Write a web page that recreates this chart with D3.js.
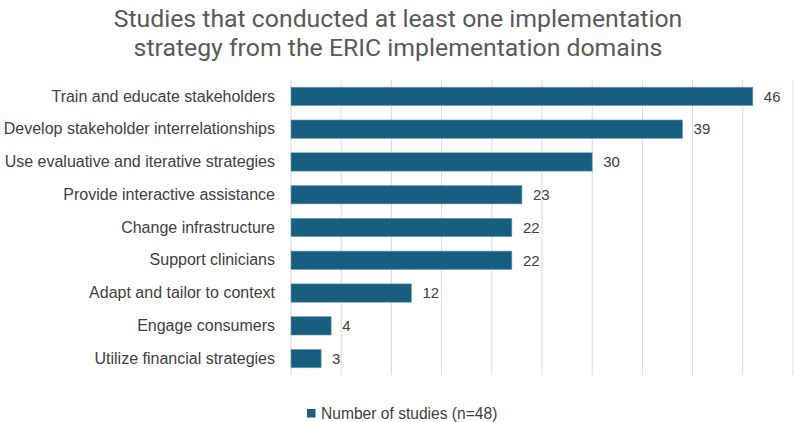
<!DOCTYPE html>
<html>
<head>
<meta charset="utf-8">
<script src="https://cdn.jsdelivr.net/npm/d3@7"></script>
<style>
  body { margin: 0; background: #fff; }
  svg { font-family: "Liberation Sans", Arial, sans-serif; }
</style>
</head>
<body>
<div id="chart"></div>
<script>
// data
const categories = [
  "Train and educate stakeholders",
  "Develop stakeholder interrelationships",
  "Use evaluative and iterative strategies",
  "Provide interactive assistance",
  "Change infrastructure",
  "Support clinicians",
  "Adapt and tailor to context",
  "Engage consumers",
  "Utilize financial strategies"
];
const studies = [46, 39, 30, 23, 22, 22, 12, 4, 3];
const seriesName = "Number of studies (n=48)";
const titleLines = [
  "Studies that conducted at least one implementation",
  "strategy from the ERIC implementation domains"
];

const width = 796, height = 422;
const margin = {top: 80, right: 3, bottom: 47, left: 291};
const barColor = "#175e80";

const svg = d3.select("#chart").append("svg")
  .attr("width", width)
  .attr("height", height);

const x = d3.scaleLinear([0, 50], [margin.left, width - margin.right]);
const y = d3.scaleBand(categories, [margin.top, height - margin.bottom])
  .paddingInner(0.44).paddingOuter(0.22);

// vertical gridlines
svg.append("g")
  .selectAll("line")
  .data(x.ticks(10))
  .join("line")
  .attr("x1", d => x(d)).attr("x2", d => x(d))
  .attr("y1", margin.top).attr("y2", height - margin.bottom)
  .attr("stroke", "#d9d9d9")
  .attr("stroke-width", 1);

// bars
svg.append("g")
  .selectAll("rect")
  .data(categories)
  .join("rect")
  .attr("x", x(0))
  .attr("y", d => y(d))
  .attr("width", (d, i) => x(studies[i]) - x(0))
  .attr("height", y.bandwidth())
  .attr("fill", barColor)
  .attr("stroke", "#6e9fb8")
  .attr("stroke-width", 0.6);

// value labels
svg.append("g")
  .selectAll("text")
  .data(categories)
  .join("text")
  .attr("x", (d, i) => x(studies[i]) + 11)
  .attr("y", d => y(d) + y.bandwidth() / 2)
  .attr("dy", "0.35em")
  .attr("font-size", 15)
  .attr("fill", "#404040")
  .text((d, i) => studies[i]);

// category axis
const yAxis = svg.append("g")
  .attr("transform", `translate(${margin.left},0)`)
  .call(d3.axisLeft(y).tickSize(0).tickPadding(16));
yAxis.select(".domain").remove();
yAxis.selectAll("text")
  .attr("font-size", 16)
  .attr("fill", "#404040");

// title
svg.append("text")
  .attr("text-anchor", "middle")
  .attr("font-family", "Roboto, sans-serif")
  .attr("font-size", 24.8)
  .attr("fill", "#595959")
  .selectAll("tspan")
  .data(titleLines)
  .join("tspan")
  .attr("x", 398)
  .attr("y", (d, i) => 27 + i * 29)
  .text(d => d);

// legend
const legend = svg.append("g").attr("transform", "translate(307,409)");
legend.append("rect")
  .attr("width", 8.5).attr("height", 8.5)
  .attr("fill", barColor);
legend.append("text")
  .attr("x", 14).attr("y", 4.5)
  .attr("dy", "0.35em")
  .attr("font-size", 15.6)
  .attr("fill", "#404040")
  .text(seriesName);
</script>
</body>
</html>
